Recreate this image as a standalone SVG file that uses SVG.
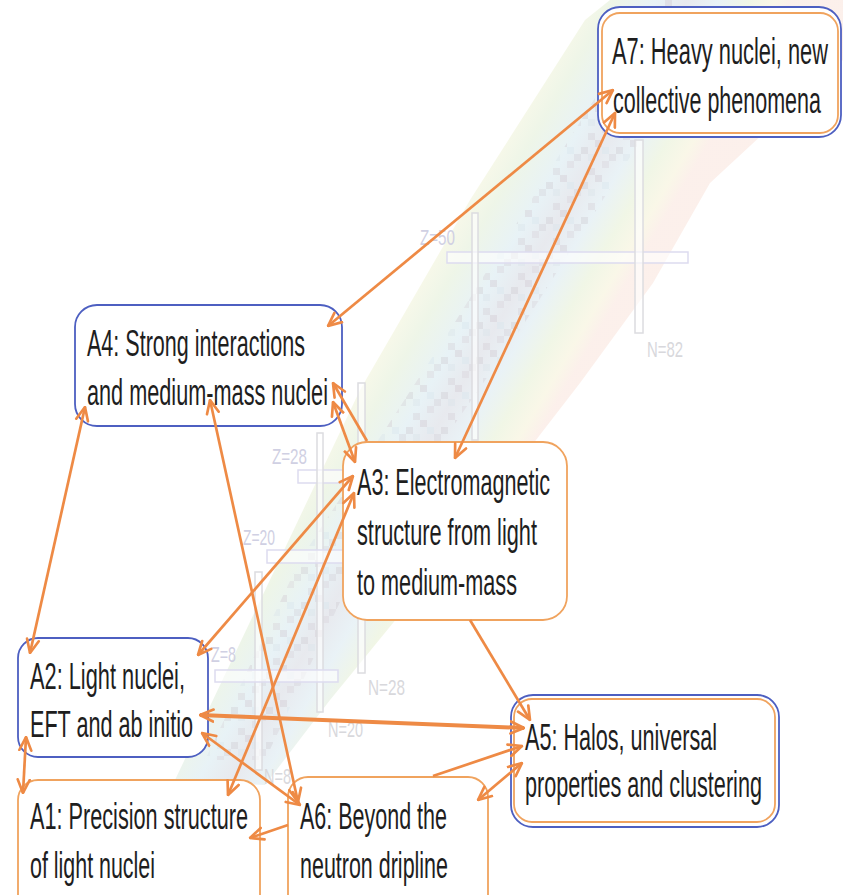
<svg xmlns="http://www.w3.org/2000/svg" width="843" height="895" viewBox="0 0 843 895">
<defs>
<style>
.box{fill:#fff;stroke-width:1.8}
.blue{stroke:#4d5fc1}
.orng{stroke:#f0a35e}
.t{font-family:"Liberation Sans",Arial,sans-serif;font-size:37px;fill:#1e1e1e}
.c{stroke:#ee8a45;stroke-width:2.7;fill:none;marker-end:url(#ah)}
.b{marker-start:url(#ah)}
.m{font-family:"Liberation Sans",Arial,sans-serif;font-size:22px;fill:#d0d0e3}
.n{fill:#d8d8dc}
.bar{fill:#fff;fill-opacity:.6;stroke:#dddbef;stroke-width:1.5}
.vbar{fill:#fff;fill-opacity:.6;stroke:#dcdce0;stroke-width:1.5}
</style>
<marker id="ah" viewBox="0 0 12 12" refX="11" refY="6" markerWidth="16" markerHeight="16" markerUnits="userSpaceOnUse" orient="auto-start-reverse">
<path d="M1,1.5 L11,6 L1,10.5" fill="none" stroke="#ee8a45" stroke-width="2" stroke-linecap="round" stroke-linejoin="round"/>
</marker>
<linearGradient id="band" gradientUnits="userSpaceOnUse" x1="365" y1="370" x2="522" y2="462">
<stop offset="0" stop-color="#f7f7e4"/>
<stop offset="0.15" stop-color="#eaf3e2"/>
<stop offset="0.35" stop-color="#e2eff4"/>
<stop offset="0.5" stop-color="#e2e4ea"/>
<stop offset="0.65" stop-color="#e4eff4"/>
<stop offset="0.8" stop-color="#edf4e0"/>
<stop offset="0.92" stop-color="#f8f5e2"/>
<stop offset="1" stop-color="#fbece6"/>
</linearGradient>
<pattern id="px" width="35" height="35" patternUnits="userSpaceOnUse">
<rect x="0" y="0" width="7" height="7" fill="#cfc6cf" fill-opacity=".45"/>
<rect x="21" y="7" width="7" height="7" fill="#c9c2cb" fill-opacity=".4"/>
<rect x="7" y="21" width="7" height="7" fill="#d4ccd4" fill-opacity=".4"/>
<rect x="14" y="14" width="7" height="7" fill="#cbc4cd" fill-opacity=".35"/>
<rect x="28" y="28" width="7" height="7" fill="#d0c8d0" fill-opacity=".4"/>
<rect x="7" y="7" width="7" height="7" fill="#d7e6ee" fill-opacity=".5"/>
<rect x="28" y="14" width="7" height="7" fill="#d9e3ea" fill-opacity=".5"/>
</pattern>
</defs>

<g id="background">
<polygon points="175,780 360,390 470,200 585,20 610,0 843,0 843,60 710,183 653,283 580,383 420,590 330,700 265,785" fill="url(#band)" opacity=".8"/>
<polygon points="205,760 300,560 450,330 600,90 640,0 700,0 660,110 520,330 360,560 265,760" fill="url(#px)" opacity=".8"/>
<rect class="bar" x="447" y="252" width="241" height="11"/>
<rect class="vbar" x="472" y="213" width="6" height="227"/>
<rect class="vbar" x="635" y="140" width="8" height="193"/>
<rect class="bar" x="298" y="470" width="50" height="13"/>
<rect class="vbar" x="358" y="383" width="7" height="290"/>
<rect class="vbar" x="317" y="433" width="6" height="279"/>
<rect class="bar" x="267" y="550" width="80" height="13"/>
<rect class="vbar" x="255" y="572" width="7" height="198"/>
<rect class="bar" x="215" y="670" width="123" height="12"/>
<text class="m" x="420" y="245" textLength="35" lengthAdjust="spacingAndGlyphs">Z=50</text>
<text class="m n" x="647" y="357" textLength="36" lengthAdjust="spacingAndGlyphs">N=82</text>
<text class="m" x="272" y="464" textLength="35" lengthAdjust="spacingAndGlyphs">Z=28</text>
<text class="m" x="243" y="545" textLength="32" lengthAdjust="spacingAndGlyphs">Z=20</text>
<text class="m" x="211" y="662" textLength="25" lengthAdjust="spacingAndGlyphs">Z=8</text>
<text class="m n" x="368" y="695" textLength="37" lengthAdjust="spacingAndGlyphs">N=28</text>
<text class="m n" x="328" y="737" textLength="35" lengthAdjust="spacingAndGlyphs">N=20</text>
<text class="m n" x="264" y="784" textLength="27" lengthAdjust="spacingAndGlyphs">N=8</text>
</g>

<g id="A7">
<rect class="box blue" x="598" y="7" width="243" height="130" rx="22"/>
<rect x="602" y="13" width="236" height="120" rx="18" fill="none" stroke="#f0a35e" stroke-width="1.8"/>
<text class="t" x="612" y="64" textLength="216" lengthAdjust="spacingAndGlyphs">A7: Heavy nuclei, new</text>
<text class="t" x="613" y="113" textLength="208" lengthAdjust="spacingAndGlyphs">collective phenomena</text>
</g>

<g id="A4">
<rect class="box blue" x="75" y="305" width="267" height="121" rx="22"/>
<text class="t" x="87" y="356" textLength="218" lengthAdjust="spacingAndGlyphs">A4: Strong interactions</text>
<text class="t" x="87" y="405" textLength="241" lengthAdjust="spacingAndGlyphs">and medium-mass nuclei</text>
</g>

<g id="A3">
<rect class="box orng" x="343" y="442" width="224" height="178" rx="24"/>
<text class="t" x="357" y="495" textLength="193" lengthAdjust="spacingAndGlyphs">A3: Electromagnetic</text>
<text class="t" x="357" y="545" textLength="180" lengthAdjust="spacingAndGlyphs">structure from light</text>
<text class="t" x="357" y="595" textLength="160" lengthAdjust="spacingAndGlyphs">to medium-mass</text>
</g>

<g id="A2">
<rect class="box blue" x="18" y="638" width="190" height="119" rx="20"/>
<text class="t" x="30" y="689" textLength="155" lengthAdjust="spacingAndGlyphs">A2: Light nuclei,</text>
<text class="t" x="30" y="737" textLength="163" lengthAdjust="spacingAndGlyphs">EFT and ab initio</text>
</g>

<g id="A5">
<rect class="box blue" x="511" y="695" width="268" height="132" rx="22"/>
<rect x="514" y="699" width="261" height="123" rx="18" fill="none" stroke="#f0a35e" stroke-width="1.8"/>
<text class="t" x="525" y="750" textLength="192" lengthAdjust="spacingAndGlyphs">A5: Halos, universal</text>
<text class="t" x="525" y="797" textLength="237" lengthAdjust="spacingAndGlyphs">properties and clustering</text>
</g>

<g id="A1">
<rect class="box orng" x="18" y="780" width="242" height="135" rx="20"/>
<text class="t" x="30" y="829" textLength="218" lengthAdjust="spacingAndGlyphs">A1: Precision structure</text>
<text class="t" x="30" y="878" textLength="125" lengthAdjust="spacingAndGlyphs">of light nuclei</text>
</g>

<g id="A6">
<rect class="box orng" x="288" y="777" width="200" height="138" rx="20"/>
<text class="t" x="300" y="829" textLength="147" lengthAdjust="spacingAndGlyphs">A6: Beyond the</text>
<text class="t" x="300" y="878" textLength="148" lengthAdjust="spacingAndGlyphs">neutron dripline</text>
</g>

<g id="connectors">
<line class="c b" x1="328" y1="326" x2="613" y2="90"/>
<line class="c b" x1="455" y1="458" x2="615" y2="113"/>
<line class="c" x1="367" y1="441" x2="333" y2="383"/>
<line class="c b" x1="333" y1="402" x2="355" y2="462"/>
<line class="c b" x1="85" y1="407" x2="30" y2="653"/>
<line class="c b" x1="210" y1="400" x2="298" y2="802"/>
<line class="c b" x1="353" y1="476" x2="198" y2="655"/>
<line class="c b" x1="354" y1="493" x2="228" y2="795"/>
<line class="c" x1="470" y1="620" x2="530" y2="720"/>
<line class="c b" x1="200" y1="715" x2="524" y2="728" style="stroke-width:4"/>
<line class="c" x1="433" y1="776" x2="522" y2="746"/>
<line class="c b" x1="522" y1="763" x2="478" y2="800"/>
<line class="c b" x1="202" y1="733" x2="300" y2="805"/>
<line class="c" x1="288" y1="825" x2="250" y2="838"/>
<line class="c b" x1="26" y1="737" x2="23" y2="793"/>
</g>
</svg>
